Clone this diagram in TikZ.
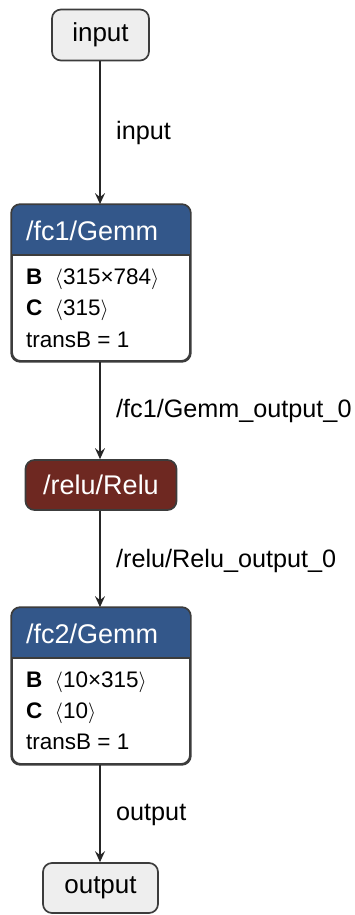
\documentclass[tikz,border=0pt]{standalone}
\usepackage{fontspec}
\setmainfont{Liberation Sans}
\usetikzlibrary{arrows.meta}
\definecolor{hdrblue}{RGB}{51,87,138}
\definecolor{relured}{RGB}{110,40,33}
\definecolor{iofill}{RGB}{238,238,238}
\definecolor{edge}{RGB}{60,60,60}
\newcommand{\lab}{\ensuremath{\big\langle}}
\newcommand{\rab}{\ensuremath{\big\rangle}}
\begin{document}
\begin{tikzpicture}[x=1pt,y=-1pt,
  iobox/.style={draw=edge,line width=1.7pt,fill=iofill,rounded corners=9pt,inner sep=0pt,font=\fontsize{26}{30}\selectfont},
  opbox/.style={draw=edge,line width=1.7pt,rounded corners=9pt,inner sep=0pt},
  hdrtext/.style={text=white,font=\fontsize{27}{31}\selectfont,anchor=west,inner sep=0pt},
  bodytext/.style={text=black,font=\fontsize{22.5}{26}\selectfont,anchor=west,inner sep=0pt},
  elabel/.style={font=\fontsize{25.2}{29}\selectfont,anchor=west,inner sep=0pt},
  conn/.style={draw=black!85,line width=1.8pt,-{Stealth[length=11pt,width=10pt,inset=4pt]}}
]
\useasboundingbox (0,0) rectangle (354,915);

% input
\node[iobox,minimum width=97pt,minimum height=51pt] (in) at (100.5,35) {input};

% fc1
\node[opbox,minimum width=178pt,minimum height=156pt] (fc1) at (101,283) {};
\fill[hdrblue,rounded corners=9pt] (fc1.north west) rectangle ([yshift=-51pt]fc1.north east);
\fill[hdrblue] ([yshift=-30pt]fc1.north west) rectangle ([yshift=-51pt]fc1.north east);
\draw[edge,line width=1.7pt] ([yshift=-51pt]fc1.north west) -- ([yshift=-51pt]fc1.north east);
\draw[edge,line width=1.7pt,rounded corners=9pt] (fc1.north west) rectangle (fc1.south east);
\node[hdrtext] (fc1h) at (26,231) {/fc1/Gemm};
\node[bodytext] (fc1b) at (26,279) {\textbf{B}\ \ \lab315×784\rab};
\node[bodytext] (fc1c) at (26,310) {\textbf{C}\ \ \lab315\rab};
\node[bodytext] (fc1t) at (26,340) {transB = 1};

% relu
\node[opbox,fill=relured,text=white,minimum width=151pt,minimum height=50pt,font=\fontsize{27}{31}\selectfont] (relu) at (101,485) {/relu/Relu};

% fc2
\node[opbox,minimum width=178pt,minimum height=156pt] (fc2) at (101,686) {};
\fill[hdrblue,rounded corners=9pt] (fc2.north west) rectangle ([yshift=-51pt]fc2.north east);
\fill[hdrblue] ([yshift=-30pt]fc2.north west) rectangle ([yshift=-51pt]fc2.north east);
\draw[edge,line width=1.7pt] ([yshift=-51pt]fc2.north west) -- ([yshift=-51pt]fc2.north east);
\draw[edge,line width=1.7pt,rounded corners=9pt] (fc2.north west) rectangle (fc2.south east);
\node[hdrtext] (fc2h) at (26,634) {/fc2/Gemm};
\node[bodytext] (fc2b) at (26,682) {\textbf{B}\ \ \lab10×315\rab};
\node[bodytext] (fc2c) at (26,713) {\textbf{C}\ \ \lab10\rab};
\node[bodytext] (fc2t) at (26,742) {transB = 1};

% output
\node[iobox,minimum width=115pt,minimum height=50pt] (out) at (100.5,888) {output};

% connectors
\draw[conn] (in.south -| 100,0) -- (fc1.north -| 100,0);
\draw[conn] (fc1.south -| 100,0) -- (relu.north -| 100,0);
\draw[conn] (relu.south -| 100,0) -- (fc2.north -| 100,0);
\draw[conn] (fc2.south -| 100,0) -- (out.north -| 100,0);

% edge labels
\node[elabel] (l1) at (116,133) {input};
\node[elabel] (l2) at (116,411) {/fc1/Gemm\_output\_0};
\node[elabel] (l3) at (116,561) {/relu/Relu\_output\_0};
\node[elabel] (l4) at (116,815) {output};
\end{tikzpicture}
\end{document}
